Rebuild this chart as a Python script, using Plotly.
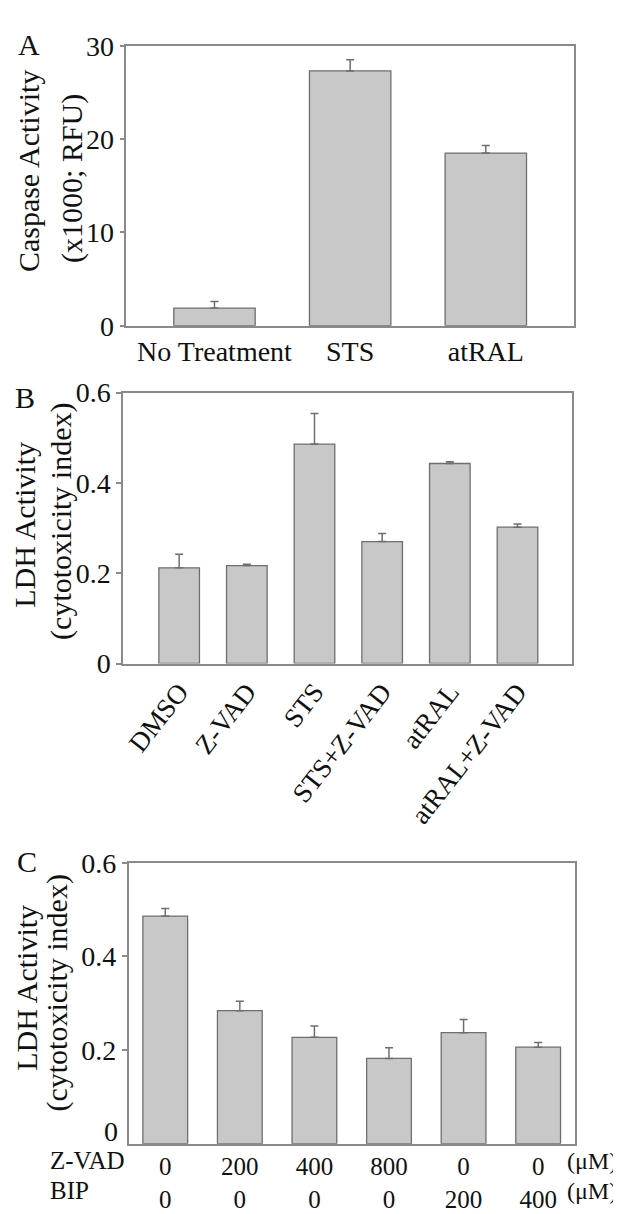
import plotly.graph_objects as go

# ---------------- data ----------------
a_categories = ["No Treatment", "STS", "atRAL"]
a_values = [1.9, 27.3, 18.5]
a_errors = [0.7, 1.2, 0.8]

b_categories = ["DMSO", "Z-VAD", "STS", "STS+Z-VAD", "atRAL", "atRAL+Z-VAD"]
b_values = [0.212, 0.217, 0.486, 0.270, 0.443, 0.302]
b_errors = [0.030, 0.003, 0.068, 0.018, 0.004, 0.007]

c_zvad = ["0", "200", "400", "800", "0", "0"]
c_bip = ["0", "0", "0", "0", "200", "400"]
c_values = [0.486, 0.284, 0.227, 0.182, 0.237, 0.206]
c_errors = [0.016, 0.020, 0.024, 0.023, 0.028, 0.010]

a_yticks = [0, 10, 20, 30]
bc_yticks = [0, 0.2, 0.4, 0.6]
bc_yticklabels = ["0", "0.2", "0.4", "0.6"]

# ---------------- style ----------------
W, H = 621, 1214
FONT = "Liberation Serif, Times New Roman, serif"
TXT = "#111111"
FRAME = "#8a8a8a"
BAR_FILL = "#c8c8c8"
BAR_LINE = "#6e6e6e"
TICK_SIZE = 28


def px_x(v):
    return v / W


def px_y(v):
    return 1 - v / H


fig = go.Figure()

bar_style = dict(marker=dict(color=BAR_FILL, line=dict(color=BAR_LINE, width=1.3)),
                 width=0.6, showlegend=False, hoverinfo="skip")


def err(vals):
    return dict(type="data", symmetric=False, array=vals, arrayminus=[0] * len(vals),
                color=BAR_LINE, thickness=1.5, width=4)


fig.add_trace(go.Bar(x=list(range(len(a_categories))), y=a_values, error_y=err(a_errors),
                     xaxis="x", yaxis="y", **bar_style))
fig.add_trace(go.Bar(x=list(range(len(b_categories))), y=b_values, error_y=err(b_errors),
                     xaxis="x2", yaxis="y2", **bar_style))
fig.add_trace(go.Bar(x=list(range(len(c_values))), y=c_values, error_y=err(c_errors),
                     xaxis="x3", yaxis="y3", **bar_style))

axis_common = dict(showline=True, mirror=True, linecolor=FRAME, linewidth=1.5,
                   showgrid=False, zeroline=False, fixedrange=True)
ytick_common = dict(ticks="outside", ticklen=5, tickcolor=FRAME, tickwidth=1.5,
                    tickfont=dict(size=TICK_SIZE, family=FONT, color=TXT))

c_ticktext = [f"{z}<br>{b}" for z, b in zip(c_zvad, c_bip)]

fig.update_layout(
    width=W, height=H,
    margin=dict(l=0, r=0, t=0, b=0),
    paper_bgcolor="white", plot_bgcolor="white",
    font=dict(family=FONT, color=TXT),
    # Panel A
    xaxis=dict(domain=[px_x(118.3), px_x(566)], range=[-0.65, 2.65], anchor="y",
               tickmode="array", tickvals=list(range(len(a_categories))), ticktext=a_categories,
               ticks="", tickfont=dict(size=28, family=FONT, color=TXT), **axis_common),
    yaxis=dict(domain=[px_y(310.7), px_y(23.3)], range=[0, 30], anchor="x",
               tickmode="array", tickvals=a_yticks, ticktext=[str(t) for t in a_yticks],
               **ytick_common, **axis_common),
    # Panel B
    xaxis2=dict(domain=[px_x(115), px_x(564.3)], range=[-0.83, 5.81], anchor="y2",
                tickmode="array", tickvals=list(range(len(b_categories))), ticktext=b_categories,
                tickangle=-52, ticks="", tickfont=dict(size=27, family=FONT, color=TXT),
                **axis_common),
    yaxis2=dict(domain=[px_y(657.3), px_y(379.3)], range=[0, 0.6], anchor="x2",
                tickmode="array", tickvals=bc_yticks, ticktext=bc_yticklabels,
                **ytick_common, **axis_common),
    # Panel C
    xaxis3=dict(domain=[px_x(120.7), px_x(566.7)], range=[-0.49, 5.49], anchor="y3",
                tickmode="array", tickvals=list(range(len(c_values))), ticktext=c_ticktext,
                ticks="", tickfont=dict(size=25, family=FONT, color=TXT), **axis_common),
    yaxis3=dict(domain=[px_y(1150), px_y(861.7)], range=[0, 0.6], anchor="x3",
                tickmode="array", tickvals=bc_yticks[1:], ticktext=bc_yticklabels[1:],
                **ytick_common, **axis_common),
)

annotations = []


def ann(text, x, y, size, angle=0, xanchor="center"):
    annotations.append(dict(text=text, x=px_x(x), y=px_y(y), xref="paper", yref="paper",
                            showarrow=False, textangle=angle, xanchor=xanchor, yanchor="middle",
                            font=dict(size=size, family=FONT, color=TXT)))


# Panel letters
ann("A", 20.5, 22.5, 30)
ann("B", 17, 384, 30)
ann("C", 19, 860, 30)

# Y axis titles
ann("Caspase Activity", 20, 152, 30, -90)
ann("(x1000; RFU)", 64, 160, 30, -90)
ann("LDH Activity", 17, 515, 30, -90)
ann("(cytotoxicity index)", 53, 512, 30, -90)
ann("LDH Activity", 19, 990, 30, -90)
ann("(cytotoxicity index)", 49, 996, 30, -90)

# Panel C: zero tick label sits slightly raised above the axis
annotations.append(dict(text=bc_yticklabels[0], x=px_x(112), y=bc_yticks[0], xref="paper", yref="y3",
                        xanchor="right", yanchor="middle", yshift=12, showarrow=False,
                        font=dict(size=TICK_SIZE, family=FONT, color=TXT)))

# Panel C row labels
ann("Z-VAD", 40, 1167.5, 25, xanchor="left")
ann("BIP", 40, 1198.5, 25, xanchor="left")
ann("(\u03bcM)", 557, 1167.5, 24, xanchor="left")
ann("(\u03bcM)", 557, 1198.5, 24, xanchor="left")

fig.update_layout(annotations=annotations)

fig.write_html("out.html")
